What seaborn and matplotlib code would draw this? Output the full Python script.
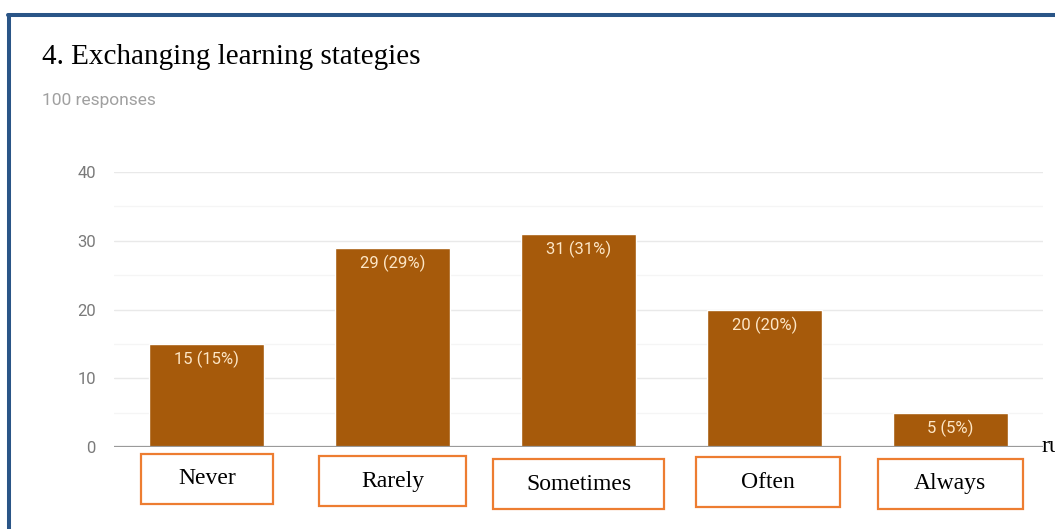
import numpy as np
import pandas as pd
import matplotlib.pyplot as plt
import seaborn as sns
from matplotlib.patches import Rectangle
from matplotlib.lines import Line2D
import matplotlib.transforms as mtransforms

# answers to question 4 (100 responses)
categories = ["Never", "Rarely", "Sometimes", "Often", "Always"]
counts = [15, 29, 31, 20, 5]
total = 100

df = pd.DataFrame({"answer": categories, "count": counts})

sns.set_style("white")
plt.rcParams['font.family'] = ['Roboto', 'DejaVu Sans']

fig = plt.figure(figsize=(10.55, 5.29), dpi=100)
ax = fig.add_axes([114/1055, 1 - 447/529, (1043-114)/1055, (447-172)/529])

sns.barplot(data=df, x="answer", y="count", color="#A65A0B", saturation=1,
            width=0.62, ax=ax, zorder=3)

ax.set_ylim(0, 40)
ax.set_xlim(-0.5, len(categories) - 0.5)
ax.set_yticks([0, 10, 20, 30, 40])
ax.set_yticks([5, 15, 25, 35], minor=True)
ax.tick_params(axis="y", length=0, labelsize=12, labelcolor="#7a7a7a", pad=13)
ax.tick_params(axis="x", length=0, labelbottom=False)
ax.grid(axis="y", which="major", color="#e9e9e9", lw=1, zorder=0)
ax.grid(axis="y", which="minor", color="#f5f5f5", lw=1, zorder=0)
ax.set_xlabel("")
ax.set_ylabel("")
for s in ax.spines.values():
    s.set_visible(False)
ax.axhline(0, color="#9a9a9a", lw=1.6, zorder=4)

# value labels inside the bars
for i, c in enumerate(counts):
    ax.annotate(f"{c} ({c*100//total}%)", (i, c), xytext=(0, -5),
                textcoords="offset points", ha="center", va="top",
                color="#fde6c6", fontsize=12, zorder=5)

# category names in orange boxes under the axis
box_w = [0.71, 0.79, 0.92, 0.77, 0.78]
box_dx = [0.0, 0.0, 0.0, 0.02, 0.0]
box_y = [479, 481, 484, 482, 484]
trans = mtransforms.blended_transform_factory(ax.transData, fig.transFigure)
h = 50 / 529
for i, name in enumerate(categories):
    yc = 1 - box_y[i] / 529
    xc = i + box_dx[i]
    ax.add_patch(Rectangle((xc - box_w[i]/2, yc - h/2), box_w[i], h,
                           transform=trans, fill=False, edgecolor="#ED7D31",
                           lw=1.6, clip_on=False))
    ax.text(xc, yc, name, transform=trans, ha="center", va="center",
            fontsize=17, family="Liberation Serif", color="black")

fig.text(1041/1055, 1 - 447/529, "ru", ha="left", va="center",
         fontsize=17, family="Liberation Serif", color="black")

# title and subtitle
fig.text(42/1055, 1 - 57/529, "4. Exchanging learning stategies", ha="left",
         va="center", fontsize=21, family="Liberation Serif", color="black")
fig.text(42/1055, 1 - 101/529, "100 responses", ha="left", va="center",
         fontsize=12.5, color="#a0a0a0")

# dark blue frame (left and top edges)
fig.add_artist(Line2D([9/1055, 9/1055], [0, 1 - 14.5/529], color="#2A5587",
                      lw=2.9, transform=fig.transFigure))
fig.add_artist(Line2D([7.5/1055, 1], [1 - 14.5/529, 1 - 14.5/529],
                      color="#2A5587", lw=2.9, transform=fig.transFigure))

fig.savefig("out.png", dpi=100)
